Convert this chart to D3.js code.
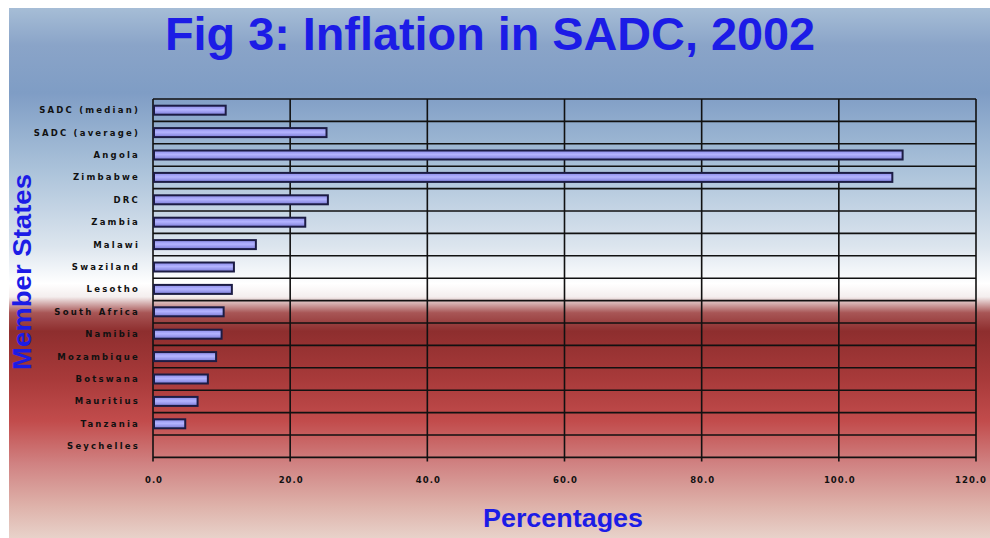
<!DOCTYPE html>
<html>
<head>
<meta charset="utf-8">
<script src="https://cdn.jsdelivr.net/npm/d3@7.9.0/dist/d3.min.js"></script>
<style>
  html, body { margin: 0; padding: 0; background: #fff; }
  svg { display: block; }
</style>
</head>
<body>
<svg id="chart" width="990" height="538"></svg>
<script>
// data
const states = ["SADC (median)", "SADC (average)", "Angola", "Zimbabwe", "DRC", "Zambia",
  "Malawi", "Swaziland", "Lesotho", "South Africa", "Namibia", "Mozambique",
  "Botswana", "Mauritius", "Tanzania", "Seychelles"];
const inflation = [10.6, 25.3, 109.3, 107.8, 25.5, 22.2, 15.0, 11.8, 11.5, 10.3,
  10.0, 9.2, 8.0, 6.5, 4.7, 0];
const xTicks = [0, 20, 40, 60, 80, 100, 120];

const width = 990, height = 538;
const margin = { top: 99, right: 14, bottom: 80, left: 153 };

const svg = d3.select('#chart');
const defs = svg.append('defs');

// background gradient: blue -> white -> dark red -> pale pink
const bg = defs.append('linearGradient').attr('id', 'bg')
  .attr('x1', 0).attr('y1', 0).attr('x2', 0).attr('y2', 1);
[[0, '#a6bdd6'], [0.07, '#8aa4c8'], [0.16, '#7f9dc5'], [0.3, '#a9c1d9'],
 [0.45, '#dce5ee'], [0.52, '#ffffff'], [0.545, '#f4eeee'], [0.575, '#a85656'],
 [0.61, '#8e2e2e'], [0.7, '#a83a3a'], [0.78, '#c24c4c'], [0.86, '#d08282'],
 [0.94, '#deb2aa'], [1, '#e8d2ca']]
  .forEach(([o, c]) => bg.append('stop').attr('offset', o).attr('stop-color', c));

const barGrad = defs.append('linearGradient').attr('id', 'bar')
  .attr('x1', 0).attr('y1', 0).attr('x2', 0).attr('y2', 1);
[[0, '#8a8ae8'], [0.45, '#b4b4ff'], [1, '#7c7cd8']]
  .forEach(([o, c]) => barGrad.append('stop').attr('offset', o).attr('stop-color', c));

svg.append('rect').attr('x', 9).attr('y', 8).attr('width', width - 9).attr('height', height - 8)
  .attr('fill', 'url(#bg)');

const x = d3.scaleLinear().domain([0, 120]).range([margin.left, width - margin.right]);
const y = d3.scaleBand().domain(states)
  .range([margin.top, height - margin.bottom - 0.6]).paddingInner(0).paddingOuter(0);

const g = svg.append('g');

// horizontal lines at category boundaries
const bounds = states.map(s => y(s)).concat([y.range()[1]]);
g.selectAll('line.h').data(bounds).join('line')
  .attr('x1', x(0)).attr('x2', x(120))
  .attr('y1', d => d).attr('y2', d => d)
  .attr('stroke', '#111').attr('stroke-width', 1.6);

// vertical grid + ticks
g.selectAll('line.v').data(xTicks).join('line')
  .attr('x1', d => x(d)).attr('x2', d => x(d))
  .attr('y1', margin.top).attr('y2', y.range()[1] + 4)
  .attr('stroke', '#111').attr('stroke-width', 1.6);

// bars
const barH = 9;
g.selectAll('rect.bar').data(inflation.filter(v => v > 0)).join('rect')
  .attr('x', x(0) + 1)
  .attr('y', (d, i) => y(states[i]) + y.bandwidth() / 2 - barH / 2)
  .attr('width', d => Math.max(0, x(d) - x(0) - 1))
  .attr('height', barH)
  .attr('fill', 'url(#bar)')
  .attr('stroke', '#1c1c44').attr('stroke-width', 2);

// category labels
g.selectAll('text.cat').data(states).join('text')
  .attr('x', 140)
  .attr('y', d => y(d) + y.bandwidth() / 2 + 3)
  .attr('text-anchor', 'end')
  .attr('font-family', 'DejaVu Sans')
  .attr('font-weight', 'bold')
  .attr('font-size', 8.5)
  .attr('letter-spacing', 2.2)
  .attr('fill', '#111')
  .text(d => d);

// x tick labels
g.selectAll('text.xt').data(xTicks).join('text')
  .attr('x', (d, i) => i === xTicks.length - 1 ? 987 : x(d) + 1)
  .attr('y', 483)
  .attr('text-anchor', (d, i) => i === xTicks.length - 1 ? 'end' : 'middle')
  .attr('font-family', 'DejaVu Sans')
  .attr('font-weight', 'bold')
  .attr('font-size', 8.5)
  .attr('letter-spacing', 1)
  .attr('fill', '#111')
  .text(d => d.toFixed(1));

// titles
svg.append('text')
  .attr('x', 490).attr('y', 50)
  .attr('text-anchor', 'middle')
  .attr('font-family', 'Liberation Sans, Arial, sans-serif')
  .attr('font-weight', 'bold')
  .attr('font-size', 46)
  .attr('textLength', 650).attr('lengthAdjust', 'spacingAndGlyphs')
  .attr('fill', '#1c1ce6')
  .text('Fig 3: Inflation in SADC, 2002');

svg.append('text')
  .attr('transform', 'translate(31,272) rotate(-90)')
  .attr('text-anchor', 'middle')
  .attr('font-family', 'Liberation Sans, Arial, sans-serif')
  .attr('font-weight', 'bold')
  .attr('font-size', 25)
  .attr('textLength', 196).attr('lengthAdjust', 'spacingAndGlyphs')
  .attr('fill', '#1c1ce6')
  .text('Member States');

svg.append('text')
  .attr('x', 563).attr('y', 527)
  .attr('text-anchor', 'middle')
  .attr('font-family', 'Liberation Sans, Arial, sans-serif')
  .attr('font-weight', 'bold')
  .attr('font-size', 26)
  .attr('textLength', 160).attr('lengthAdjust', 'spacingAndGlyphs')
  .attr('fill', '#1c1ce6')
  .text('Percentages');
</script>
</body>
</html>
